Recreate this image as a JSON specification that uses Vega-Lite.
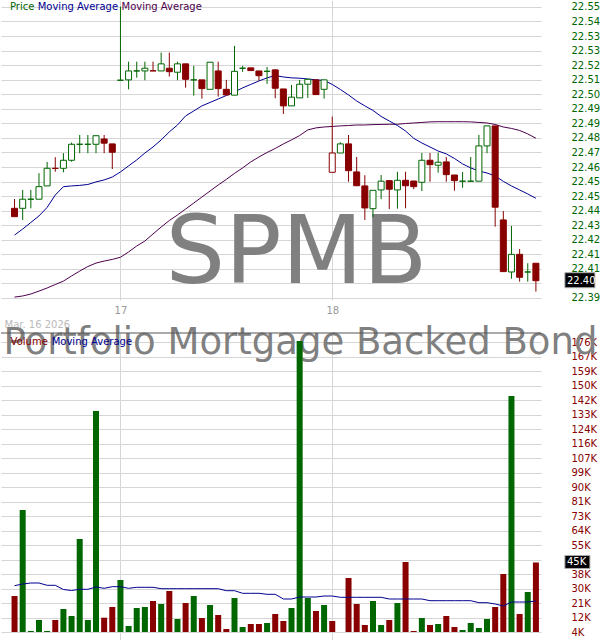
{
"$schema": "https://vega.github.io/schema/vega-lite/v6.json",
"padding": 0,
"background": "white",
"bounds": "flush",
"spacing": 33,
"config": {"view": {"stroke": null}, "font": "DejaVu Sans", "axis": {"gridColor": "#d6d6d6", "domain": false, "ticks": false, "tickSize": 0, "labelFont": "DejaVu Sans", "labelFontSize": 10, "labelOverlap": false, "labelFlush": false, "labelBound": false, "tickCount": 100}},
"datasets": {"bars": [
{"i":0,"o":22.4393,"h":22.4444,"l":22.4347,"c":22.4347,"v":25690,"ma1":22.4246,"ma2":22.3905,"vma":31808,"trend":"down"},
{"i":1,"o":22.4393,"h":22.4494,"l":22.4329,"c":22.4443,"v":76774,"ma1":22.4279,"ma2":22.3911,"vma":32818,"trend":"up"},
{"i":2,"o":22.4443,"h":22.4494,"l":22.4393,"c":22.4443,"v":4900,"ma1":22.4315,"ma2":22.3922,"vma":33412,"trend":"up"},
{"i":3,"o":22.4443,"h":22.4586,"l":22.4443,"c":22.4512,"v":11434,"ma1":22.4351,"ma2":22.3938,"vma":33412,"trend":"up"},
{"i":4,"o":22.4516,"h":22.4648,"l":22.4516,"c":22.4613,"v":4900,"ma1":22.4398,"ma2":22.3955,"vma":32046,"trend":"up"},
{"i":5,"o":22.4613,"h":22.4674,"l":22.4594,"c":22.4612,"v":11434,"ma1":22.4466,"ma2":22.3974,"vma":32046,"trend":"down"},
{"i":6,"o":22.4613,"h":22.4696,"l":22.4591,"c":22.4657,"v":17968,"ma1":22.4512,"ma2":22.3993,"vma":29551,"trend":"up"},
{"i":7,"o":22.4657,"h":22.4754,"l":22.4649,"c":22.4745,"v":13810,"ma1":22.4516,"ma2":22.4021,"vma":28957,"trend":"up"},
{"i":8,"o":22.4745,"h":22.4796,"l":22.4696,"c":22.4745,"v":59548,"ma1":22.4519,"ma2":22.4048,"vma":29670,"trend":"up"},
{"i":9,"o":22.4745,"h":22.4796,"l":22.4696,"c":22.4745,"v":11434,"ma1":22.4524,"ma2":22.4073,"vma":29670,"trend":"up"},
{"i":10,"o":22.4745,"h":22.4792,"l":22.4696,"c":22.4792,"v":135580,"ma1":22.4538,"ma2":22.4092,"vma":31036,"trend":"up"},
{"i":11,"o":22.4774,"h":22.4796,"l":22.4696,"c":22.4751,"v":12800,"ma1":22.4549,"ma2":22.4103,"vma":30264,"trend":"down"},
{"i":12,"o":22.4747,"h":22.4747,"l":22.4609,"c":22.4701,"v":19156,"ma1":22.4565,"ma2":22.4112,"vma":31214,"trend":"down"},
{"i":13,"o":22.5097,"h":22.5502,"l":22.5097,"c":22.5097,"v":35194,"ma1":22.4593,"ma2":22.4124,"vma":31214,"trend":"up"},
{"i":14,"o":22.5099,"h":22.5199,"l":22.5047,"c":22.5148,"v":7870,"ma1":22.4626,"ma2":22.4153,"vma":30264,"trend":"up"},
{"i":15,"o":22.5148,"h":22.5199,"l":22.5111,"c":22.5148,"v":18562,"ma1":22.4659,"ma2":22.4186,"vma":30858,"trend":"up"},
{"i":16,"o":22.5148,"h":22.5199,"l":22.5097,"c":22.5163,"v":19156,"ma1":22.4697,"ma2":22.4213,"vma":30858,"trend":"up"},
{"i":17,"o":22.5149,"h":22.5199,"l":22.5148,"c":22.5148,"v":22720,"ma1":22.4730,"ma2":22.4252,"vma":30858,"trend":"down"},
{"i":18,"o":22.5148,"h":22.5249,"l":22.5148,"c":22.5187,"v":20938,"ma1":22.4769,"ma2":22.4290,"vma":30026,"trend":"up"},
{"i":19,"o":22.5163,"h":22.5249,"l":22.5117,"c":22.5144,"v":28660,"ma1":22.4813,"ma2":22.4326,"vma":30026,"trend":"down"},
{"i":20,"o":22.5141,"h":22.5199,"l":22.5097,"c":22.5187,"v":12028,"ma1":22.4851,"ma2":22.4356,"vma":30026,"trend":"up"},
{"i":21,"o":22.5187,"h":22.5187,"l":22.5056,"c":22.5102,"v":21532,"ma1":22.4901,"ma2":22.4389,"vma":30026,"trend":"down"},
{"i":22,"o":22.5099,"h":22.5176,"l":22.5012,"c":22.5099,"v":25690,"ma1":22.4928,"ma2":22.4422,"vma":30026,"trend":"up"},
{"i":23,"o":22.5099,"h":22.5099,"l":22.4996,"c":22.5051,"v":12622,"ma1":22.4956,"ma2":22.4455,"vma":30026,"trend":"down"},
{"i":24,"o":22.5047,"h":22.5196,"l":22.5047,"c":22.5196,"v":20344,"ma1":22.4975,"ma2":22.4488,"vma":30026,"trend":"up"},
{"i":25,"o":22.5148,"h":22.5199,"l":22.5007,"c":22.5051,"v":14404,"ma1":22.4994,"ma2":22.4521,"vma":30026,"trend":"down"},
{"i":26,"o":22.5047,"h":22.5099,"l":22.5016,"c":22.5016,"v":6088,"ma1":22.5013,"ma2":22.4552,"vma":28838,"trend":"down"},
{"i":27,"o":22.5015,"h":22.5286,"l":22.5015,"c":22.5146,"v":24502,"ma1":22.5033,"ma2":22.4585,"vma":28838,"trend":"up"},
{"i":28,"o":22.5163,"h":22.5176,"l":22.5143,"c":22.5163,"v":7276,"ma1":22.5055,"ma2":22.4615,"vma":27294,"trend":"up"},
{"i":29,"o":22.5165,"h":22.5165,"l":22.5150,"c":22.5150,"v":9058,"ma1":22.5074,"ma2":22.4648,"vma":27294,"trend":"down"},
{"i":30,"o":22.5148,"h":22.5148,"l":22.5095,"c":22.5122,"v":9058,"ma1":22.5093,"ma2":22.4675,"vma":27294,"trend":"down"},
{"i":31,"o":22.5146,"h":22.5170,"l":22.5077,"c":22.5146,"v":9652,"ma1":22.5110,"ma2":22.4700,"vma":26700,"trend":"up"},
{"i":32,"o":22.5154,"h":22.5157,"l":22.4998,"c":22.5053,"v":14998,"ma1":22.5123,"ma2":22.4722,"vma":26700,"trend":"down"},
{"i":33,"o":22.5049,"h":22.5049,"l":22.4912,"c":22.4956,"v":10840,"ma1":22.5115,"ma2":22.4747,"vma":23908,"trend":"down"},
{"i":34,"o":22.4956,"h":22.5071,"l":22.4956,"c":22.5004,"v":18562,"ma1":22.5110,"ma2":22.4769,"vma":23908,"trend":"up"},
{"i":35,"o":22.5000,"h":22.5099,"l":22.5000,"c":22.5075,"v":177160,"ma1":22.5108,"ma2":22.4793,"vma":25096,"trend":"up"},
{"i":36,"o":22.5075,"h":22.5102,"l":22.5000,"c":22.5102,"v":24502,"ma1":22.5104,"ma2":22.4824,"vma":25096,"trend":"up"},
{"i":37,"o":22.5099,"h":22.5099,"l":22.5018,"c":22.5018,"v":16780,"ma1":22.5099,"ma2":22.4835,"vma":25096,"trend":"down"},
{"i":38,"o":22.5047,"h":22.5099,"l":22.4996,"c":22.5099,"v":20344,"ma1":22.5096,"ma2":22.4840,"vma":25690,"trend":"up"},
{"i":39,"o":22.4591,"h":22.4897,"l":22.4591,"c":22.4697,"v":10840,"ma1":22.5074,"ma2":22.4843,"vma":25690,"trend":"down"},
{"i":40,"o":22.4697,"h":22.4756,"l":22.4697,"c":22.4747,"v":4306,"ma1":22.5046,"ma2":22.4846,"vma":24918,"trend":"up"},
{"i":41,"o":22.4747,"h":22.4796,"l":22.4539,"c":22.4600,"v":36382,"ma1":22.5016,"ma2":22.4848,"vma":24918,"trend":"down"},
{"i":42,"o":22.4593,"h":22.4675,"l":22.4517,"c":22.4517,"v":20938,"ma1":22.4983,"ma2":22.4851,"vma":24918,"trend":"down"},
{"i":43,"o":22.4516,"h":22.4575,"l":22.4329,"c":22.4395,"v":8464,"ma1":22.4956,"ma2":22.4851,"vma":24918,"trend":"down"},
{"i":44,"o":22.4391,"h":22.4492,"l":22.4344,"c":22.4492,"v":22720,"ma1":22.4931,"ma2":22.4853,"vma":24918,"trend":"up"},
{"i":45,"o":22.4494,"h":22.4576,"l":22.4443,"c":22.4542,"v":8464,"ma1":22.4898,"ma2":22.4854,"vma":24918,"trend":"up"},
{"i":46,"o":22.4545,"h":22.4545,"l":22.4389,"c":22.4498,"v":11434,"ma1":22.4873,"ma2":22.4855,"vma":23908,"trend":"down"},
{"i":47,"o":22.4494,"h":22.4594,"l":22.4391,"c":22.4547,"v":21532,"ma1":22.4848,"ma2":22.4855,"vma":23908,"trend":"up"},
{"i":48,"o":22.4547,"h":22.4594,"l":22.4393,"c":22.4517,"v":45886,"ma1":22.4818,"ma2":22.4859,"vma":23908,"trend":"down"},
{"i":49,"o":22.4543,"h":22.4543,"l":22.4498,"c":22.4512,"v":4900,"ma1":22.4778,"ma2":22.4862,"vma":23908,"trend":"down"},
{"i":50,"o":22.4536,"h":22.4697,"l":22.4488,"c":22.4657,"v":12622,"ma1":22.4752,"ma2":22.4865,"vma":23908,"trend":"up"},
{"i":51,"o":22.4657,"h":22.4697,"l":22.4539,"c":22.4633,"v":8464,"ma1":22.4730,"ma2":22.4868,"vma":22898,"trend":"down"},
{"i":52,"o":22.4630,"h":22.4699,"l":22.4589,"c":22.4646,"v":9058,"ma1":22.4708,"ma2":22.4869,"vma":22898,"trend":"up"},
{"i":53,"o":22.4648,"h":22.4675,"l":22.4539,"c":22.4578,"v":13810,"ma1":22.4692,"ma2":22.4869,"vma":22898,"trend":"down"},
{"i":54,"o":22.4576,"h":22.4576,"l":22.4490,"c":22.4545,"v":7276,"ma1":22.4667,"ma2":22.4869,"vma":22898,"trend":"down"},
{"i":55,"o":22.4542,"h":22.4593,"l":22.4506,"c":22.4542,"v":5494,"ma1":22.4637,"ma2":22.4869,"vma":22898,"trend":"up"},
{"i":56,"o":22.4542,"h":22.4675,"l":22.4542,"c":22.4542,"v":9652,"ma1":22.4615,"ma2":22.4868,"vma":22898,"trend":"up"},
{"i":57,"o":22.4542,"h":22.4796,"l":22.4542,"c":22.4736,"v":6682,"ma1":22.4598,"ma2":22.4865,"vma":21710,"trend":"up"},
{"i":58,"o":22.4736,"h":22.4846,"l":22.4696,"c":22.4846,"v":12028,"ma1":22.4587,"ma2":22.4862,"vma":21710,"trend":"up"},
{"i":59,"o":22.4846,"h":22.4846,"l":22.4292,"c":22.4399,"v":19156,"ma1":22.4571,"ma2":22.4854,"vma":20938,"trend":"down"},
{"i":60,"o":22.4329,"h":22.4378,"l":22.4045,"c":22.4045,"v":38758,"ma1":22.4541,"ma2":22.4840,"vma":19750,"trend":"down"},
{"i":61,"o":22.4043,"h":22.4296,"l":22.4006,"c":22.4140,"v":144490,"ma1":22.4516,"ma2":22.4832,"vma":22126,"trend":"up"},
{"i":62,"o":22.4140,"h":22.4169,"l":22.3990,"c":22.4014,"v":14998,"ma1":22.4494,"ma2":22.4821,"vma":22126,"trend":"down"},
{"i":63,"o":22.4043,"h":22.4091,"l":22.3990,"c":22.4043,"v":28066,"ma1":22.4472,"ma2":22.4802,"vma":22126,"trend":"up"},
{"i":64,"o":22.4091,"h":22.4091,"l":22.3935,"c":22.3995,"v":45600,"ma1":22.4448,"ma2":22.4778,"vma":22720,"trend":"down"}
]},
"vconcat": [
{
"width": 540, "height": 300,
"layer": [
{"data": {"values": [{"name": "SPMB"}]},
 "mark": {"type": "text", "fontSize": 94, "color": "#808080", "align": "center", "baseline": "alphabetic"},
 "encoding": {"x": {"datum": 34.6, "scale": {"domain": [-1.048, 64.012], "nice": false, "zero": false}}, "y": {"datum": 22.3982, "scale": {"domain": [22.3889, 22.5538], "nice": false, "zero": false}}, "text": {"field": "name"}}},
{"data": {"values": [{"t": "Price"}]},
 "mark": {"type": "text", "fontSize": 10, "color": "#006600", "align": "left", "baseline": "alphabetic", "dx": 4, "dy": 10},
 "encoding": {"x": {"datum": -1.048}, "y": {"datum": 22.5538}, "text": {"field": "t"}}},
{"data": {"values": [{"t": "Moving Average"}]},
 "mark": {"type": "text", "fontSize": 10, "color": "#000090", "align": "left", "baseline": "alphabetic", "dx": 31.7, "dy": 10},
 "encoding": {"x": {"datum": -1.048}, "y": {"datum": 22.5538}, "text": {"field": "t"}}},
{"data": {"values": [{"t": "Moving Average"}]},
 "mark": {"type": "text", "fontSize": 10, "color": "#4d004d", "align": "left", "baseline": "alphabetic", "dx": 115.5, "dy": 10},
 "encoding": {"x": {"datum": -1.048}, "y": {"datum": 22.5538}, "text": {"field": "t"}}},
{"data": {"name": "bars"},
 "mark": {"type": "line", "color": "#4d004d", "strokeWidth": 1},
 "encoding": {
  "x": {"field": "i", "type": "quantitative", "scale": {"domain": [-1.048, 64.012], "nice": false, "zero": false},
        "axis": {"values": [13, 39], "tickCount": 100, "labelExpr": "datum.value == 13 ? '17' : '18'", "labelColor": "#999999", "labelPadding": 5, "grid": true, "title": "Mar. 16 2026", "titleColor": "#bbbbbb", "titleFontWeight": "normal", "titleFontSize": 10, "titleX": 3, "titleY": 24, "titleAlign": "left", "titleBaseline": "middle"}},
  "y": {"field": "ma2", "type": "quantitative", "scale": {"domain": [22.3889, 22.5538], "nice": false, "zero": false},
        "axis": {"orient": "right", "tickCount": 100, "values": [22.39, 22.398, 22.406, 22.414, 22.422, 22.43, 22.438, 22.446, 22.454, 22.462, 22.47, 22.478, 22.486, 22.494, 22.502, 22.51, 22.518, 22.526, 22.534, 22.542, 22.55], "labelExpr": "abs(datum.value - 22.398) < 0.0005 ? '' : format(datum.value, '.2f')", "labelColor": "#006600", "labelPadding": 30, "grid": true, "title": null}}}},
{"data": {"name": "bars"},
 "mark": {"type": "line", "color": "#000090", "strokeWidth": 1},
 "encoding": {
  "x": {"field": "i", "type": "quantitative", "scale": {"domain": [-1.048, 64.012], "nice": false, "zero": false},
        "axis": {"values": [13, 39], "tickCount": 100, "labelExpr": "datum.value == 13 ? '17' : '18'", "labelColor": "#999999", "labelPadding": 5, "grid": true, "title": "Mar. 16 2026", "titleColor": "#bbbbbb", "titleFontWeight": "normal", "titleFontSize": 10, "titleX": 3, "titleY": 24, "titleAlign": "left", "titleBaseline": "middle"}},
  "y": {"field": "ma1", "type": "quantitative", "scale": {"domain": [22.3889, 22.5538], "nice": false, "zero": false},
        "axis": {"orient": "right", "tickCount": 100, "values": [22.39, 22.398, 22.406, 22.414, 22.422, 22.43, 22.438, 22.446, 22.454, 22.462, 22.47, 22.478, 22.486, 22.494, 22.502, 22.51, 22.518, 22.526, 22.534, 22.542, 22.55], "labelExpr": "abs(datum.value - 22.398) < 0.0005 ? '' : format(datum.value, '.2f')", "labelColor": "#006600", "labelPadding": 30, "grid": true, "title": null}}}},
{"data": {"name": "bars"},
 "mark": {"type": "rule", "strokeWidth": 1},
 "encoding": {
  "x": {"field": "i", "type": "quantitative", "scale": {"domain": [-1.048, 64.012], "nice": false, "zero": false},
        "axis": {"values": [13, 39], "tickCount": 100, "labelExpr": "datum.value == 13 ? '17' : '18'", "labelColor": "#999999", "labelPadding": 5, "grid": true, "title": "Mar. 16 2026", "titleColor": "#bbbbbb", "titleFontWeight": "normal", "titleFontSize": 10, "titleX": 3, "titleY": 24, "titleAlign": "left", "titleBaseline": "middle"}},
  "y": {"field": "l", "type": "quantitative", "scale": {"domain": [22.3889, 22.5538], "nice": false, "zero": false},
        "axis": {"orient": "right", "tickCount": 100, "values": [22.39, 22.398, 22.406, 22.414, 22.422, 22.43, 22.438, 22.446, 22.454, 22.462, 22.47, 22.478, 22.486, 22.494, 22.502, 22.51, 22.518, 22.526, 22.534, 22.542, 22.55], "labelExpr": "abs(datum.value - 22.398) < 0.0005 ? '' : format(datum.value, '.2f')", "labelColor": "#006600", "labelPadding": 30, "grid": true, "title": null}},
  "y2": {"field": "h"},
  "color": {"field": "trend", "type": "nominal", "scale": {"domain": ["up", "down"], "range": ["#006600", "#880000"]}, "legend": null}}},
{"data": {"name": "bars"},
 "mark": {"type": "bar", "width": 6, "strokeWidth": 1, "orient": "vertical"},
 "encoding": {
  "x": {"field": "i", "type": "quantitative", "scale": {"domain": [-1.048, 64.012], "nice": false, "zero": false},
        "axis": {"values": [13, 39], "tickCount": 100, "labelExpr": "datum.value == 13 ? '17' : '18'", "labelColor": "#999999", "labelPadding": 5, "grid": true, "title": "Mar. 16 2026", "titleColor": "#bbbbbb", "titleFontWeight": "normal", "titleFontSize": 10, "titleX": 3, "titleY": 24, "titleAlign": "left", "titleBaseline": "middle"}},
  "y": {"field": "o", "type": "quantitative", "scale": {"domain": [22.3889, 22.5538], "nice": false, "zero": false},
        "axis": {"orient": "right", "tickCount": 100, "values": [22.39, 22.398, 22.406, 22.414, 22.422, 22.43, 22.438, 22.446, 22.454, 22.462, 22.47, 22.478, 22.486, 22.494, 22.502, 22.51, 22.518, 22.526, 22.534, 22.542, 22.55], "labelExpr": "abs(datum.value - 22.398) < 0.0005 ? '' : format(datum.value, '.2f')", "labelColor": "#006600", "labelPadding": 30, "grid": true, "title": null}},
  "y2": {"field": "c"},
  "stroke": {"field": "trend", "type": "nominal", "scale": {"domain": ["up", "down"], "range": ["#006600", "#880000"]}, "legend": null},
  "fill": {"condition": {"test": "datum.c > datum.o", "value": "white"}, "field": "trend", "type": "nominal", "scale": {"domain": ["up", "down"], "range": ["#006600", "#880000"]}, "legend": null}}},
{"data": {"values": [{"price": 22.3995, "label": "22.40"}]},
 "mark": {"type": "rect", "color": "black", "stroke": "#aaaaaa", "strokeWidth": 1, "xOffset": 29, "x2Offset": 59, "yOffset": -8, "y2Offset": 7},
 "encoding": {"x": {"datum": 64}, "x2": {"datum": 64}, "y": {"field": "price", "type": "quantitative"}, "y2": {"field": "price"}}},
{"data": {"values": [{"price": 22.3995, "label": "22.40"}]},
 "mark": {"type": "text", "color": "white", "fontSize": 10, "align": "left", "baseline": "middle", "dx": 31},
 "encoding": {"x": {"datum": 64}, "y": {"field": "price", "type": "quantitative"}, "text": {"field": "label"}}}
]
},
{
"width": 540, "height": 307,
"layer": [
{"data": {"values": [{"name": "Portfolio Mortgage Backed Bond"}]},
 "mark": {"type": "text", "fontSize": 37, "color": "#808080", "align": "center", "baseline": "alphabetic"},
 "encoding": {"x": {"datum": 35.1, "scale": {"domain": [-1.048, 64.012], "nice": false, "zero": false}}, "y": {"datum": 169438, "scale": {"domain": [-446, 181912], "nice": false, "zero": false}}, "text": {"field": "name"}}},
{"data": {"name": "bars"},
 "mark": {"type": "bar", "width": 6, "orient": "vertical"},
 "encoding": {
  "x": {"field": "i", "type": "quantitative", "scale": {"domain": [-1.048, 64.012], "nice": false, "zero": false}, "axis": {"values": [13, 39], "tickCount": 100, "grid": true, "labels": false, "title": null}},
  "y": {"field": "v", "type": "quantitative", "scale": {"domain": [-446, 181912], "nice": false, "zero": false},
        "axis": {"orient": "right", "tickCount": 100, "values": [4306, 12918, 21530, 30142, 38754, 47366, 55978, 64590, 73202, 81814, 90426, 99038, 107650, 116262, 124874, 133486, 142098, 150710, 159322, 167934, 176546], "labelExpr": "abs(datum.value - 47366) < 1 ? '' : floor(datum.value / 1000) + 'K'", "labelColor": "#880000", "labelPadding": 30, "grid": true, "title": null}},
  "y2": {"datum": 4306},
  "color": {"field": "trend", "type": "nominal", "scale": {"domain": ["up", "down"], "range": ["#006600", "#880000"]}, "legend": null}}},
{"data": {"name": "bars"},
 "mark": {"type": "line", "color": "#000090", "strokeWidth": 1},
 "encoding": {
  "x": {"field": "i", "type": "quantitative", "scale": {"domain": [-1.048, 64.012], "nice": false, "zero": false}, "axis": {"values": [13, 39], "tickCount": 100, "grid": true, "labels": false, "title": null}},
  "y": {"field": "vma", "type": "quantitative", "scale": {"domain": [-446, 181912], "nice": false, "zero": false},
        "axis": {"orient": "right", "tickCount": 100, "values": [4306, 12918, 21530, 30142, 38754, 47366, 55978, 64590, 73202, 81814, 90426, 99038, 107650, 116262, 124874, 133486, 142098, 150710, 159322, 167934, 176546], "labelExpr": "abs(datum.value - 47366) < 1 ? '' : floor(datum.value / 1000) + 'K'", "labelColor": "#880000", "labelPadding": 30, "grid": true, "title": null}}}},
{"data": {"values": [{"top": 181912}]},
 "mark": {"type": "rule", "color": "#555555", "strokeWidth": 1},
 "encoding": {"y": {"field": "top", "type": "quantitative"}}},
{"data": {"values": [{"t": "Volume"}]},
 "mark": {"type": "text", "fontSize": 10, "color": "#880000", "align": "left", "baseline": "alphabetic", "dx": 4.6, "dy": 12},
 "encoding": {"x": {"datum": -1.048}, "y": {"datum": 181912}, "text": {"field": "t"}}},
{"data": {"values": [{"t": "Moving Average"}]},
 "mark": {"type": "text", "fontSize": 10, "color": "#000090", "align": "left", "baseline": "alphabetic", "dx": 45.7, "dy": 12},
 "encoding": {"x": {"datum": -1.048}, "y": {"datum": 181912}, "text": {"field": "t"}}},
{"data": {"values": [{"vol": 45600, "label": "45K"}]},
 "mark": {"type": "rect", "color": "black", "stroke": "#aaaaaa", "strokeWidth": 1, "xOffset": 29, "x2Offset": 54, "yOffset": -7, "y2Offset": 6},
 "encoding": {"x": {"datum": 64}, "x2": {"datum": 64}, "y": {"field": "vol", "type": "quantitative"}, "y2": {"field": "vol"}}},
{"data": {"values": [{"vol": 45600, "label": "45K"}]},
 "mark": {"type": "text", "color": "white", "fontSize": 10, "align": "left", "baseline": "middle", "dx": 31},
 "encoding": {"x": {"datum": 64}, "y": {"field": "vol", "type": "quantitative"}, "text": {"field": "label"}}}
]
}
]
}
